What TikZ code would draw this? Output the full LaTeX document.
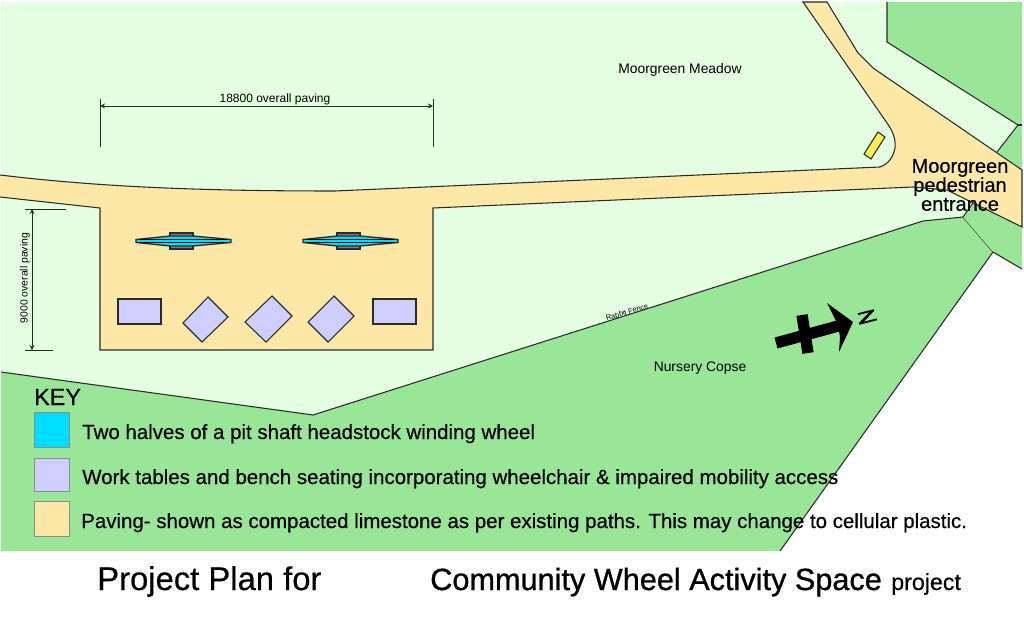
\documentclass[tikz,border=0pt]{standalone}
\usepackage{fontspec}
\setmainfont{Liberation Sans}
\newfontfamily\heavyfont[FakeBold=0.4]{Liberation Sans}
\newfontfamily\titlefont[FakeBold=0.9]{Liberation Sans}
\definecolor{meadow}{HTML}{E5FFE3}
\definecolor{copse}{HTML}{99E699}
\definecolor{paving}{HTML}{FDE8A8}
\definecolor{tabletop}{HTML}{CFCFFF}
\definecolor{wheel}{HTML}{00DDFF}
\definecolor{signpost}{HTML}{F5EE55}
\definecolor{edge}{HTML}{2B2B2B}
\tikzset{
	plot/.style={draw=edge,line width=0.8pt},
	table/.style={plot,fill=tabletop},
	swatch/.style={draw=black!45,line width=0.6pt},
	lbl/.style={inner sep=0pt,text=black},
	keytext/.style={lbl,anchor=base west,font=\heavyfont\fontsize{15.35}{15.35}\selectfont},
	maptext/.style={lbl,font=\fontsize{10.4}{10.4}\selectfont},
	dim/.style={draw=edge,line width=0.7pt}
}
\newcommand{\halfwheel}[1]{
\begin{scope}[xshift=#1*0.75pt]
\draw[plot,fill=black!50] (170,233) rectangle (193,249);
\draw[plot,fill=wheel,line width=1pt] (136,239.5) -- (170,236) -- (193,236) -- (231,239.5) -- (231,242.5) -- (193,246) -- (170,246) -- (136,242.5) -- cycle;
\draw[black,line width=0.8pt] (140,239.5) -- (227,239.5);
\draw[black,line width=0.8pt] (140,242.5) -- (227,242.5);
\end{scope}
}
\begin{document}
\begin{tikzpicture}[x=0.75pt,y=-0.75pt]
\useasboundingbox (0,0) rectangle (1024,624);
\fill[white] (0,0) rectangle (1024,624);
\fill[meadow] (1,2) rectangle (1022,551);
\fill[white] (780,551) -- (993,252) -- (1022,269) -- (1022,551) -- cycle;
% woodland
\fill[copse] (1,372) -- (313,415) -- (923,221) -- (963,217) -- (993,252) -- (780,551) -- (1,551) -- cycle;
\draw[plot] (1,372) -- (313,415) -- (923,221) -- (963,217) -- (993,252) -- (780,551);
\fill[copse] (963,217) -- (973,203) -- (1022,227) -- (1022,269) -- (993,252) -- cycle;
\draw[plot] (963,217) -- (973,203);
\draw[plot] (993,252) -- (1022,269);
\fill[copse] (887,2) -- (887,42) -- (1018,125) -- (997,152) -- (1022,170) -- (1022,2) -- cycle;
\draw[plot] (887,2) -- (887,42) -- (1018,125) -- (997,152);
\draw[plot] (1018,125) -- (1022,125);
% paving
\draw[plot,fill=paving] (0,175) .. controls (100,187) and (200,191) .. (335,191) -- (880,167) .. controls (888,164) and (893,158) .. (895,148) .. controls (896,138) and (892,130) .. (887,123) -- (803,2) -- (827,2) -- (858,53) -- (873,68) -- (1022,170) -- (1022,227) -- (947,190) -- (913,187) -- (433,208) -- (433,350) -- (100,350) -- (100,208) -- (0,197);
% tables
\draw[table] (118,299) rectangle (161,324);
\draw[table] (373,299) rectangle (416,324);
\draw[table] (208,297) -- (228,317) -- (202,342) -- (183,323) -- cycle;
\draw[table] (272,296) -- (292,316) -- (266,342) -- (245,322) -- cycle;
\draw[table] (334,296) -- (354,316) -- (328,342) -- (308,322) -- cycle;
% wheel halves
\halfwheel{0}
\halfwheel{167}
% sign
\draw[plot,fill=signpost] (878,132) -- (885,137) -- (871,159) -- (864,154) -- cycle;
% dimensions
\draw[dim] (100,99) -- (100,147);
\draw[dim] (433,99) -- (433,147);
\draw[dim,<->,>=stealth] (100,106) -- (433,106);
\draw[dim] (25,209) -- (66,209);
\draw[dim] (25,350) -- (53,350);
\draw[dim,<->,>=stealth] (32,209) -- (32,350);
\node[lbl,font=\fontsize{9}{9}\selectfont] (widthlabel) at (275,99) {18800 overall paving};
\node[lbl,rotate=90,font=\fontsize{7.8}{7.8}\selectfont] (depthlabel) at (25,278) {9000 overall paving};
% compass
\draw[black,line width=8.5pt] (776,343) -- (842,325);
\draw[black,line width=8.5pt] (802,315) -- (808,353);
\fill[black] (853,322) -- (827,303) -- (838,325) -- (840,337) -- (839,352) -- cycle;
\node[lbl,rotate=14,xscale=2,font=\bfseries\fontsize{12.6}{12.6}\selectfont] (north) at (867,317) {Z};
% labels
\node[maptext] (meadowlabel) at (680,70) {Moorgreen Meadow};
\node[maptext] (copselabel) at (700,368) {Nursery Copse};
\node[lbl,rotate=17,font=\fontsize{5.5}{5.5}\selectfont] (fencelabel) at (627,312) {Rabbit Fence};
\node[lbl,align=center,font=\heavyfont\fontsize{15}{14.25}\selectfont] (entrance) at (960,185) {Moorgreen\\pedestrian\\entrance};
% key
\node[lbl,anchor=base west,font=\heavyfont\fontsize{17.5}{17.5}\selectfont] (keytitle) at (34,405) {KEY};
\draw[swatch,fill=wheel] (34,412) rectangle (69,447);
\draw[swatch,fill=tabletop] (34,458) rectangle (69,491);
\draw[swatch,fill=paving] (34,501) rectangle (69,536);
\node[keytext] (keywheel) at (82,439) {Two halves of a pit shaft headstock winding wheel};
\node[keytext] (keytable) at (82,484) {Work tables and bench seating incorporating wheelchair \& impaired mobility access};
\node[keytext] (keypaving) at (81,528) {Paving- shown as compacted limestone as per existing paths. This may change to cellular plastic.};
% title
\node[lbl,anchor=base west,font=\heavyfont\fontsize{24.6}{24.6}\selectfont] (titleleft) at (97,590) {Project Plan for};
\node[lbl,anchor=base west,font=\titlefont\fontsize{23}{23}\selectfont] (titleright) at (430,590) {Community Wheel Activity Space};
\node[lbl,anchor=base west,font=\heavyfont\fontsize{17.4}{17.4}\selectfont] (titletail) at (891,590) {project};
\end{tikzpicture}
\end{document}
